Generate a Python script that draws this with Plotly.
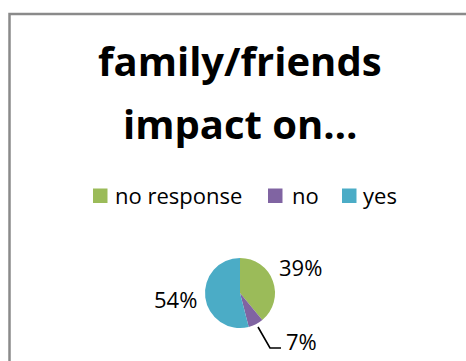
import plotly.graph_objects as go

# Survey answers
categories = ["no response", "no", "yes"]
values = [39, 7, 54]
colors = ["#9BBB59", "#8064A2", "#4BACC6"]
title_lines = ["family/friends", "impact on…"]

W, H = 466, 361
FONT = "Open Sans"


def px(x):
    return x / W


def py(y):
    return 1 - y / H


fig = go.Figure()

fig.add_trace(go.Pie(
    labels=categories,
    values=values,
    marker=dict(colors=colors, line=dict(width=0)),
    sort=False,
    direction="clockwise",
    rotation=0,
    textinfo="none",
    hoverinfo="label+percent",
    showlegend=False,
    domain=dict(x=[px(205), px(275)], y=[py(328), py(258)]),
))

annotations = []

# Two-line title
for text, yc in zip(title_lines, [61, 123]):
    annotations.append(dict(
        text=f"<b>{text}</b>", x=px(240), y=py(yc), xref="paper", yref="paper",
        xanchor="center", yanchor="middle", showarrow=False,
        font=dict(family=FONT, size=40, color="#000000"),
    ))

shapes = []

# Legend row: coloured squares with labels
legend_sq_x = [93, 268, 342]
legend_txt_x = [113, 290, 361]
for cat, col, sx, tx in zip(categories, colors, legend_sq_x, legend_txt_x):
    shapes.append(dict(
        type="rect", xref="paper", yref="paper",
        x0=px(sx), x1=px(sx + 14.5), y0=py(203), y1=py(188.5),
        fillcolor=col, line=dict(width=0),
    ))
    annotations.append(dict(
        text=cat, x=px(tx), y=py(195), xref="paper", yref="paper",
        xanchor="left", yanchor="middle", showarrow=False,
        font=dict(family=FONT, size=22, color="#000000"),
    ))

# Percentage labels around the pie
total = sum(values)
label_pos = [(300, 267), (301, 341), (175, 299)]
for v, (lx, ly) in zip(values, label_pos):
    annotations.append(dict(
        text=f"{round(v / total * 100)}%", x=px(lx), y=py(ly),
        xref="paper", yref="paper", xanchor="center", yanchor="middle",
        showarrow=False, font=dict(family=FONT, size=22, color="#000000"),
    ))

# Leader line for the small slice
shapes.append(dict(
    type="path", xref="paper", yref="paper",
    path=f"M {px(258)},{py(327)} L {px(270)},{py(348)} L {px(281)},{py(348)}",
    line=dict(color="#000000", width=1.6),
))

# Chart area border
shapes.append(dict(
    type="rect", xref="paper", yref="paper",
    x0=px(9.5), x1=1.2, y0=-0.2, y1=py(14),
    line=dict(color="#8A8A8A", width=2.5), fillcolor="rgba(0,0,0,0)",
))

fig.update_layout(
    width=W, height=H,
    margin=dict(l=0, r=0, t=0, b=0),
    paper_bgcolor="#FFFFFF",
    plot_bgcolor="#FFFFFF",
    annotations=annotations,
    shapes=shapes,
)

fig.write_html("out.html")
